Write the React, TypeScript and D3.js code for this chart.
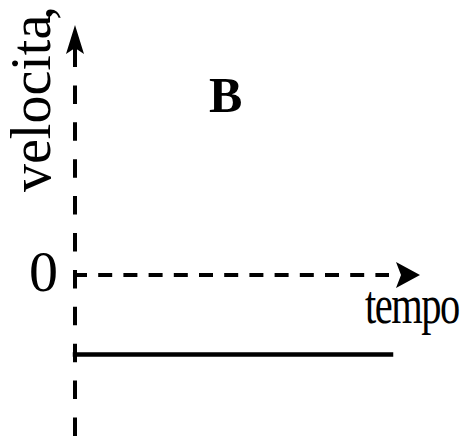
import React from "react";
import * as d3 from "d3";

// ---- data ----
const timeDomain = [0, 1];
const times = [0, 1];
const velocityValues = [-1, -1];
const velocityTickValues = [0];
const velocityTickLabels = ["0"];
const yAxisLabel = "velocita";
const yAxisLabelMark = "’";
const xAxisLabel = "tempo";
const panelLabel = "B";

const W = 470;
const H = 439;
const FONT = "'Liberation Serif', 'Times New Roman', serif";

export default function App() {
  const x = d3.scaleLinear().domain(timeDomain).range([75, 391]);
  const y = d3.scaleLinear().domain([0, -1]).range([275, 354.5]);

  const x0 = x(0);
  const y0 = y(0);
  const xAxisEnd = x.invert(389);
  const xTip = x.invert(420);

  const lineGen = d3
    .line<number>()
    .x((_, i) => x(times[i]))
    .y((d) => y(d));

  const upArrow = d3.path();
  upArrow.moveTo(x0, 25);
  upArrow.lineTo(x0 + 9, 54);
  upArrow.lineTo(x0, 48);
  upArrow.lineTo(x0 - 9, 54);
  upArrow.closePath();

  const rightArrow = d3.path();
  const tipX = x(xTip);
  rightArrow.moveTo(tipX, y0);
  rightArrow.lineTo(tipX - 24, y0 - 13);
  rightArrow.lineTo(tipX - 19, y0);
  rightArrow.lineTo(tipX - 24, y0 + 13);
  rightArrow.closePath();

  return (
    <svg
      width={W}
      height={H}
      viewBox={`0 0 ${W} ${H}`}
      style={{ position: "absolute", left: 0, top: 0, background: "#fff" }}
    >
      {/* vertical (velocity) axis, dashed */}
      <line
        x1={x0}
        y1={436}
        x2={x0}
        y2={48}
        stroke="#000"
        strokeWidth={4}
        strokeDasharray="18.5 18.4"
      />
      <line x1={x0} y1={48} x2={x0} y2={67} stroke="#000" strokeWidth={4} />
      <path d={upArrow.toString()} fill="#000" />

      {/* horizontal (time) axis at velocity 0, dashed */}
      <line
        x1={x0 - 2}
        y1={y0}
        x2={x(xAxisEnd)}
        y2={y0}
        stroke="#000"
        strokeWidth={4}
        strokeDasharray="14 11.2"
      />
      <path d={rightArrow.toString()} fill="#000" />

      {/* constant velocity line */}
      <path
        d={lineGen(velocityValues) || ""}
        fill="none"
        stroke="#000"
        strokeWidth={4.5}
        strokeLinecap="square"
      />

      {/* tick label */}
      {velocityTickValues.map((v, i) => (
        <text
          key={i}
          x={58}
          y={y(v) + 16}
          textAnchor="end"
          fontFamily={FONT}
          fontSize={58}
          fill="#000"
        >
          {velocityTickLabels[i]}
        </text>
      ))}

      {/* axis labels */}
      <text
        transform={`translate(50,192) rotate(-90)`}
        fontFamily={FONT}
        fontSize={56}
        fill="#000"
      >
        {yAxisLabel}
        <tspan dx={-8} dy="0.6em">
          {yAxisLabelMark}
        </tspan>
      </text>
      <text
        transform="translate(365,323) scale(0.75,1)"
        fontFamily={FONT}
        fontSize={54}
        letterSpacing={-2}
        fill="#000"
      >
        {xAxisLabel}
      </text>

      {/* panel label */}
      <text
        x={209}
        y={112}
        fontFamily={FONT}
        fontSize={50}
        fontWeight="bold"
        fill="#000"
      >
        {panelLabel}
      </text>
    </svg>
  );
}
